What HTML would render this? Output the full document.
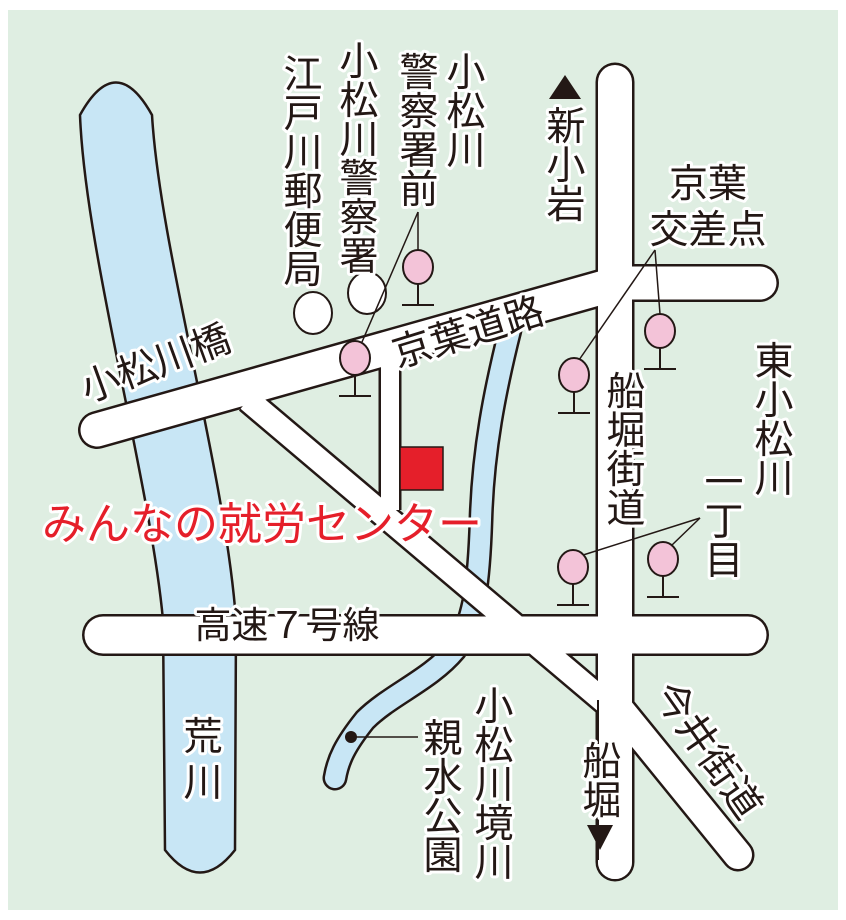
<!DOCTYPE html>
<html><head><meta charset="utf-8"><style>
html,body{margin:0;padding:0;background:#fff;}
svg{display:block}
.t{font-family:"Liberation Sans","Noto Sans CJK JP",sans-serif;fill:#231815;stroke:#fff;stroke-width:6px;paint-order:stroke;stroke-linejoin:round;text-anchor:middle;font-size:39px;}
</style></head><body>
<svg width="846" height="920" viewBox="0 0 846 920" xmlns="http://www.w3.org/2000/svg">
<rect x="8" y="10" width="830" height="900" fill="#dfeee2"/>
<path d="M80,115 C85,250 150,480 163,620 L165,850 Q200,895 235,850 L236,620 C225,470 160,250 152,115 Q116,50 80,115 Z" fill="#c8e6f5" stroke="#231815" stroke-width="2.5"/>
<path d="M510,330 C495,390 483,450 481,520 C479,580 475,620 455,650 C430,680 390,695 365,720 C345,745 338,760 335,778" fill="none" stroke="#231815" stroke-width="25" stroke-linecap="round"/>
<path d="M510,330 C495,390 483,450 481,520 C479,580 475,620 455,650 C430,680 390,695 365,720 C345,745 338,760 335,778" fill="none" stroke="#c8e6f5" stroke-width="20" stroke-linecap="round"/>
<g stroke="#231815" fill="none">
<line x1="615" y1="82" x2="615" y2="862" stroke-width="39" stroke-linecap="round"/>
<line x1="615" y1="283" x2="760" y2="283" stroke-width="38" stroke-linecap="round"/>
<line x1="97" y1="430" x2="615" y2="284" stroke-width="38" stroke-linecap="round"/>
<line x1="248" y1="400" x2="612" y2="708" stroke-width="28"/>
<line x1="390" y1="360" x2="390" y2="510" stroke-width="23"/>
<line x1="612" y1="700" x2="738" y2="855" stroke-width="33" stroke-linecap="round"/>
<line x1="103" y1="635" x2="748" y2="635" stroke-width="42" stroke-linecap="round"/>
</g>
<g stroke="#fff" fill="none">
<line x1="615" y1="82" x2="615" y2="862" stroke-width="34" stroke-linecap="round"/>
<line x1="615" y1="283" x2="760" y2="283" stroke-width="33" stroke-linecap="round"/>
<line x1="97" y1="430" x2="615" y2="284" stroke-width="33" stroke-linecap="round"/>
<line x1="248" y1="400" x2="612" y2="708" stroke-width="23"/>
<line x1="390" y1="350" x2="390" y2="510" stroke-width="18"/>
<line x1="612" y1="700" x2="738" y2="855" stroke-width="28" stroke-linecap="round"/>
</g>
<line x1="615" y1="655" x2="615" y2="862" stroke="#fff" stroke-width="34" stroke-linecap="round"/>
<line x1="598" y1="700" x2="598" y2="860" stroke="#231815" stroke-width="2"/>
<line x1="103" y1="635" x2="748" y2="635" stroke="#fff" stroke-width="37" stroke-linecap="round"/>
<rect x="400" y="447" width="43" height="43" fill="#e51f2a" stroke="#231815" stroke-width="1.5"/>
<ellipse cx="313" cy="313" rx="19" ry="21" fill="#fff" stroke="#231815" stroke-width="2"/>
<ellipse cx="367" cy="293" rx="19" ry="21" fill="#fff" stroke="#231815" stroke-width="2"/>
<g stroke="#231815" stroke-width="1.5" fill="none">
<line x1="418" y1="212" x2="418" y2="252"/>
<line x1="418" y1="212" x2="362" y2="342"/>
<line x1="655" y1="250" x2="579" y2="360"/>
<line x1="655" y1="250" x2="660" y2="314"/>
<line x1="700" y1="518" x2="580" y2="556"/>
<line x1="700" y1="518" x2="672" y2="545"/>
<line x1="350" y1="737" x2="418" y2="737"/>
</g>
<circle cx="351" cy="737" r="6" fill="#231815"/>
<g fill="#f3c3d8" stroke="#231815" stroke-width="2">
<g transform="translate(418,267)"><line x1="0" y1="17" x2="0" y2="38"/><line x1="-16" y1="38" x2="16" y2="38"/><ellipse rx="15" ry="17"/></g>
<g transform="translate(355,358)"><line x1="0" y1="17" x2="0" y2="38"/><line x1="-16" y1="38" x2="16" y2="38"/><ellipse rx="15" ry="17"/></g>
<g transform="translate(574,375)"><line x1="0" y1="17" x2="0" y2="38"/><line x1="-16" y1="38" x2="16" y2="38"/><ellipse rx="15" ry="17"/></g>
<g transform="translate(660,331)"><line x1="0" y1="17" x2="0" y2="38"/><line x1="-16" y1="38" x2="16" y2="38"/><ellipse rx="15" ry="17"/></g>
<g transform="translate(573,567)"><line x1="0" y1="17" x2="0" y2="38"/><line x1="-16" y1="38" x2="16" y2="38"/><ellipse rx="15" ry="17"/></g>
<g transform="translate(663,559)"><line x1="0" y1="17" x2="0" y2="38"/><line x1="-16" y1="38" x2="16" y2="38"/><ellipse rx="15" ry="17"/></g>
</g>
<polygon points="565,75 549,99 581,99" fill="#231815"/>
<polygon points="587,825 613,825 600,850" fill="#231815"/>
<g class="t">
<text x="303" y="88"><tspan x="303">江</tspan><tspan x="303" dy="39">戸</tspan><tspan x="303" dy="39">川</tspan><tspan x="303" dy="39">郵</tspan><tspan x="303" dy="39">便</tspan><tspan x="303" dy="39">局</tspan></text>
<text x="359" y="75"><tspan x="359">小</tspan><tspan x="359" dy="39">松</tspan><tspan x="359" dy="39">川</tspan><tspan x="359" dy="39">警</tspan><tspan x="359" dy="39">察</tspan><tspan x="359" dy="39">署</tspan></text>
<text x="419" y="86"><tspan x="419">警</tspan><tspan x="419" dy="39">察</tspan><tspan x="419" dy="39">署</tspan><tspan x="419" dy="39">前</tspan></text>
<text x="466" y="86"><tspan x="466">小</tspan><tspan x="466" dy="39">松</tspan><tspan x="466" dy="39">川</tspan></text>
<text x="566" y="140"><tspan x="566">新</tspan><tspan x="566" dy="39">小</tspan><tspan x="566" dy="39">岩</tspan></text>
<text x="774" y="375"><tspan x="774">東</tspan><tspan x="774" dy="39">小</tspan><tspan x="774" dy="39">松</tspan><tspan x="774" dy="39">川</tspan></text>
<text x="724" y="496"><tspan x="724">一</tspan><tspan x="724" dy="39">丁</tspan><tspan x="724" dy="39">目</tspan></text>
<text x="626" y="405"><tspan x="626">船</tspan><tspan x="626" dy="39">堀</tspan><tspan x="626" dy="39">街</tspan><tspan x="626" dy="39">道</tspan></text>
<text x="203" y="750"><tspan x="203">荒</tspan><tspan x="203" dy="46">川</tspan></text>
<text x="494" y="720"><tspan x="494">小</tspan><tspan x="494" dy="39">松</tspan><tspan x="494" dy="39">川</tspan><tspan x="494" dy="39">境</tspan><tspan x="494" dy="39">川</tspan></text>
<text x="443" y="752"><tspan x="443">親</tspan><tspan x="443" dy="39">水</tspan><tspan x="443" dy="39">公</tspan><tspan x="443" dy="39">園</tspan></text>
<text x="602" y="775"><tspan x="602">船</tspan><tspan x="602" dy="39">堀</tspan></text>
<text x="708" y="197">京葉</text>
<text x="708" y="243">交差点</text>
<text x="287" y="638" style="font-size:37px">高速７号線</text>
<text x="0" y="0" transform="translate(472,345) rotate(-17)">京葉道路</text>
<text x="0" y="0" transform="translate(160,376) rotate(-20)">小松川橋</text>
<text x="0" y="0" transform="translate(697,758) rotate(55)">今井街道</text>
<text x="262" y="539" style="fill:#e51f2a;font-size:44px">みんなの就労センター</text>
</g>
</svg>
</body></html>
